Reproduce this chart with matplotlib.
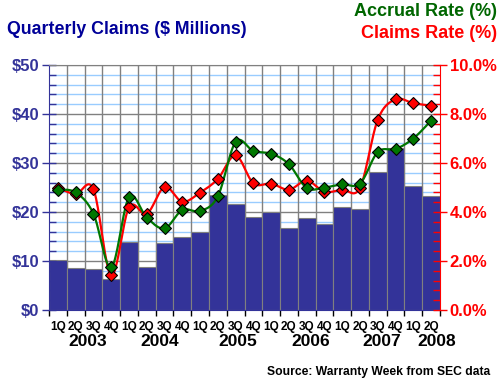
import numpy as np
import matplotlib
matplotlib.use("Agg")
import matplotlib.pyplot as plt
from matplotlib.ticker import MultipleLocator, FuncFormatter

plt.rcParams['font.family'] = ['Liberation Sans', 'DejaVu Sans']
plt.rcParams['font.weight'] = 'bold'

quarters = ["1Q", "2Q", "3Q", "4Q"] * 5 + ["1Q", "2Q"]
years = ["2003", "2004", "2005", "2006", "2007", "2008"]
year_pos = [2.2, 6.25, 10.6, 14.7, 18.7, 21.8]

claims = [10.3, 8.5, 8.3, 6.3, 13.8, 8.8, 13.6, 14.8, 16.0, 23.4, 21.6, 18.9,
          20.1, 16.7, 18.7, 17.5, 21.0, 20.7, 28.1, 33.0, 25.4, 23.3]
claims_rate = [5.0, 4.73, 4.93, 1.41, 4.19, 3.92, 5.02, 4.42, 4.79, 5.35, 6.31, 5.17,
               5.16, 4.91, 5.28, 4.83, 4.91, 4.99, 7.77, 8.6, 8.44, 8.34]
accrual_rate = [4.91, 4.80, 3.93, 1.74, 4.6, 3.77, 3.33, 4.08, 4.04, 4.64, 6.86, 6.49,
                6.38, 5.95, 4.98, 5.0, 5.13, 5.16, 6.45, 6.57, 7.0, 7.73]


def smooth(xs, ys, n=20):
    # Catmull-Rom path through the points (Excel-style smoothed line)
    xs = np.asarray(xs, float); ys = np.asarray(ys, float)
    px = np.concatenate([[xs[0]], xs, [xs[-1]]])
    py = np.concatenate([[ys[0]], ys, [ys[-1]]])
    ox, oy = [], []
    for i in range(1, len(px) - 2):
        t = np.linspace(0, 1, n, endpoint=False)
        for p, out in ((px, ox), (py, oy)):
            p0, p1, p2, p3 = p[i - 1], p[i], p[i + 1], p[i + 2]
            out.extend(0.5 * ((2 * p1) + (-p0 + p2) * t + (2 * p0 - 5 * p1 + 4 * p2 - p3) * t ** 2
                              + (-p0 + 3 * p1 - 3 * p2 + p3) * t ** 3))
    ox.append(xs[-1]); oy.append(ys[-1])
    return ox, oy


navy = '#333399'
fig = plt.figure(figsize=(5, 3.85), dpi=100)
ax = fig.add_axes([49 / 500, 1 - 310 / 385, 391 / 500, 245 / 385])
n = len(claims)
x = np.arange(n) + 0.5

ax.set_xlim(0, n)
ax.set_ylim(0, 50)
# grid
for v in np.arange(0, 50.1, 2):
    if v % 10 == 0:
        continue
    ax.axhline(v, color='#99CCFF', lw=1, zorder=0)
for v in np.arange(10, 50.1, 10):
    ax.axhline(v, color='#808080', lw=1, zorder=0.5)
for v in range(1, n):
    ax.axvline(v, color='#808080', lw=1, zorder=0.5)

ax.bar(x, claims, width=1.0, color=navy, edgecolor='#808080', linewidth=0.8, zorder=1)

ax.yaxis.set_major_locator(MultipleLocator(10))
ax.yaxis.set_minor_locator(MultipleLocator(2))
ax.yaxis.set_major_formatter(FuncFormatter(lambda v, p: f"${v:.0f}"))
ax.tick_params(axis='y', which='major', direction='inout', length=10, width=1, color=navy,
               labelcolor=navy, labelsize=12, pad=2)
ax.tick_params(axis='y', which='minor', direction='in', length=5, width=1, color=navy)
ax.set_xticks(np.arange(0, n + 1))
ax.set_xticklabels([])
ax.tick_params(axis='x', which='major', direction='out', length=4, width=1, color='black')
for xi, q in zip(x, quarters):
    ax.text(xi, -2.3, q, ha='center', va='top', fontsize=8.5, fontweight='bold', color='black')
for yp, yr in zip(year_pos, years):
    ax.text(yp, -5.0, yr, ha='center', va='top', fontsize=12.5, fontweight='bold', color='black')

ax.spines['top'].set_color('#808080')
ax.spines['left'].set_color(navy)
ax.spines['bottom'].set_color(navy)
ax.spines['right'].set_visible(False)

ax2 = ax.twinx()
ax2.set_ylim(0, 10)
ax2.spines['right'].set_color('#FF0000')
ax2.spines['left'].set_visible(False)
ax2.spines['top'].set_visible(False)
ax2.spines['bottom'].set_visible(False)
ax2.yaxis.set_major_locator(MultipleLocator(2))
ax2.yaxis.set_minor_locator(MultipleLocator(0.4))
ax2.yaxis.set_major_formatter(FuncFormatter(lambda v, p: f"{v:.1f}%"))
ax2.tick_params(axis='y', which='major', direction='inout', length=10, width=1, color='#FF0000',
                labelcolor='#FF0000', labelsize=12, pad=2)
ax2.tick_params(axis='y', which='minor', direction='in', length=5, width=1, color='#FF0000')

sx, sy = smooth(x, claims_rate)
ax2.plot(sx, sy, color='#FF0000', lw=1.6, zorder=3)
sx, sy = smooth(x, accrual_rate)
ax2.plot(sx, sy, color='#007700', lw=1.6, zorder=3)
ax2.plot(x, claims_rate, ls='none', marker='D', ms=6.2, mfc='#FF0000', mec='black', mew=0.8, zorder=4)
ax2.plot(x, accrual_rate, ls='none', marker='D', ms=6.2, mfc='#007700', mec='black', mew=0.8, zorder=5)

fig.text(7 / 500, 1 - 29 / 385, "Quarterly Claims ($ Millions)", ha='left', va='center',
         fontsize=12.8, fontweight='bold', color='#000099')
fig.text(497 / 500, 1 - 12 / 385, "Accrual Rate (%)", ha='right', va='center',
         fontsize=13, fontweight='bold', color='#006600')
fig.text(497 / 500, 1 - 34 / 385, "Claims Rate (%)", ha='right', va='center',
         fontsize=13, fontweight='bold', color='#FF0000')
fig.text(490 / 500, 1 - 372 / 385, "Source: Warranty Week from SEC data", ha='right', va='center',
         fontsize=8.7, fontweight='bold', color='black')

fig.savefig('out.png', dpi=100, facecolor='white')
